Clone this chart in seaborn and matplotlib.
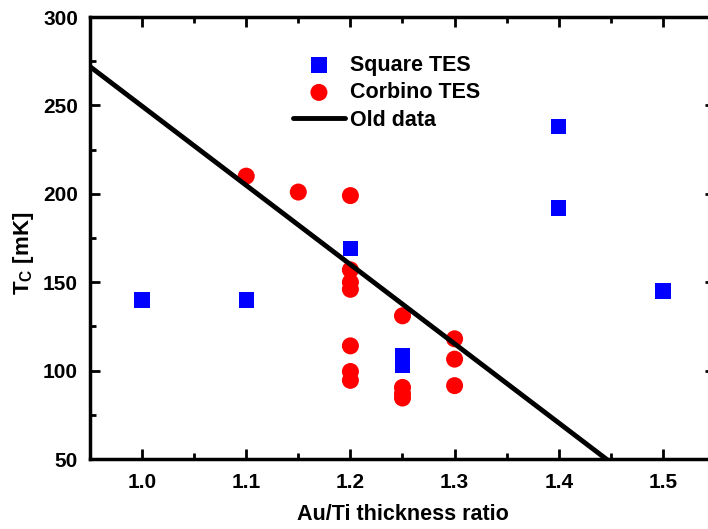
import numpy as np
import pandas as pd
import matplotlib
matplotlib.use("Agg")
import matplotlib.pyplot as plt
import seaborn as sns
from matplotlib.ticker import MultipleLocator

# Square TES
sq_ratio = [1.0, 1.1, 1.2, 1.25, 1.25, 1.4, 1.4, 1.5]
sq_tc = [140, 140, 169, 108.5, 103, 238, 192, 145]

# Corbino TES
co_ratio = [1.1, 1.15, 1.2, 1.2, 1.2, 1.2, 1.2, 1.2, 1.2,
            1.25, 1.25, 1.25, 1.25, 1.3, 1.3, 1.3]
co_tc = [210, 201, 199, 157, 150, 146, 114, 99.5, 94.5,
         131, 90.5, 87, 84.5, 118, 106.5, 91.5]

# old data (straight line)
old_ratio = [0.95, 1.45]
old_tc = [272, 48]

sq = pd.DataFrame({'ratio': sq_ratio, 'tc': sq_tc})
co = pd.DataFrame({'ratio': co_ratio, 'tc': co_tc})
old = pd.DataFrame({'ratio': old_ratio, 'tc': old_tc})

sns.set_style("ticks")
plt.rcParams['font.family'] = ['Liberation Sans', 'DejaVu Sans']
plt.rcParams['font.weight'] = 'bold'
plt.rcParams['text.color'] = 'black'
plt.rcParams['axes.labelcolor'] = 'black'
plt.rcParams['xtick.color'] = 'black'
plt.rcParams['ytick.color'] = 'black'
plt.rcParams['axes.edgecolor'] = 'black'
plt.rcParams['mathtext.fontset'] = 'custom'
plt.rcParams['mathtext.rm'] = 'Liberation Sans:bold'

fig = plt.figure(figsize=(7.08, 5.29), dpi=100)
ax = fig.add_axes([0.127, 0.1323, 0.883, 0.8355])

sns.scatterplot(data=sq, x='ratio', y='tc', ax=ax, marker='s', s=120,
                color='#0000ff', edgecolor='none', label='Square TES', zorder=3)
sns.scatterplot(data=co, x='ratio', y='tc', ax=ax, marker='o', s=150,
                color='#ff0000', edgecolor='none', label='Corbino TES', zorder=3)
sns.lineplot(data=old, x='ratio', y='tc', ax=ax, color='black', lw=3.5,
             label='Old data', zorder=4)

ax.set_xlim(0.95, 1.55)
ax.set_ylim(50, 300)
ax.xaxis.set_major_locator(MultipleLocator(0.1))
ax.xaxis.set_minor_locator(MultipleLocator(0.05))
ax.yaxis.set_major_locator(MultipleLocator(50))
ax.yaxis.set_minor_locator(MultipleLocator(25))
ax.tick_params(which='both', direction='in', top=True, right=True, width=2)
ax.tick_params(which='major', length=7, labelsize=15)
ax.tick_params(axis='x', which='major', pad=10)
ax.tick_params(axis='y', which='major', pad=8.5)
ax.tick_params(which='minor', length=4)
for lab in ax.get_xticklabels() + ax.get_yticklabels():
    lab.set_fontweight('bold')
for sp in ax.spines.values():
    sp.set_linewidth(2.5)
    sp.set_color('black')
    sp.set_visible(True)

ax.set_xlabel('Au/Ti thickness ratio', fontsize=15.5, fontweight='bold', labelpad=9)
ax.set_ylabel(r'T$_\mathregular{C}$ [mK]', fontsize=16, fontweight='bold')
ax.yaxis.set_label_coords(-0.086, 0.466)

leg = ax.legend(loc='upper left', bbox_to_anchor=(0.325, 0.915), frameon=False,
                fontsize=15.5, handlelength=2.4, handletextpad=0.25,
                labelspacing=0.3, borderaxespad=0, borderpad=0)
for t in leg.get_texts():
    t.set_fontweight('bold')

fig.savefig('out.png', dpi=100)
